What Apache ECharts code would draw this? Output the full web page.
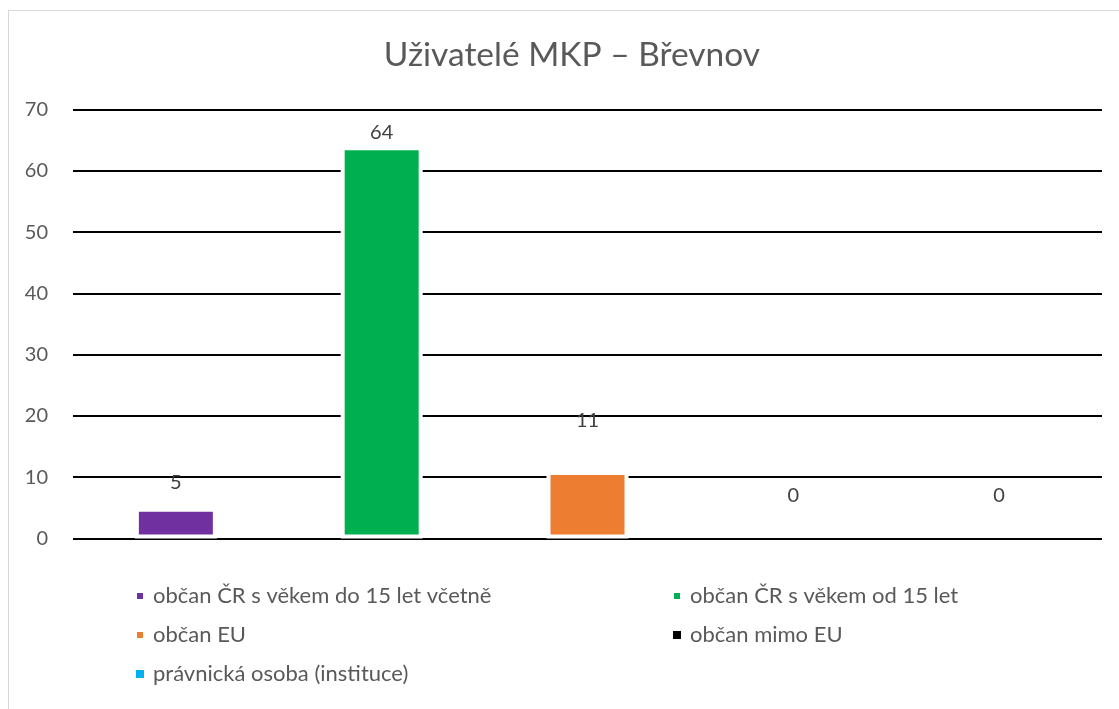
<!DOCTYPE html>
<html>
<head>
<meta charset="utf-8">
<script src="https://cdn.jsdelivr.net/npm/echarts@6/dist/echarts.min.js"></script>
<style>
  html, body { margin: 0; padding: 0; background: #fff; }
  #frame {
    position: absolute; left: 8px; top: 10px; width: 1130px; height: 720px;
    border: 1px solid #d9d9d9; box-sizing: border-box;
  }
  #chart { position: absolute; left: 0; top: 0; width: 1119px; height: 709px; }
</style>
</head>
<body>
<div id="frame"></div>
<div id="chart"></div>
<script>
const seriesNames = [
  'občan ČR s věkem do 15 let včetně',
  'občan ČR s věkem od 15 let',
  'občan EU',
  'občan mimo EU',
  'právnická osoba (instituce)'
]
const seriesValues = [5, 64, 11, 0, 0]
const seriesColors = ['#7030A0', '#00B050', '#ED7D31', '#000000', '#00B0F0']
const yTicks = [0, 10, 20, 30, 40, 50, 60, 70]
// label nudges to follow the original placement
const labelOffsets = [-10, 1, -36, -28, -28]

const font = 'Lato, "Open Sans", sans-serif'
const chart = echarts.init(document.getElementById('chart'), null, { renderer: 'canvas' })

const series = seriesNames.map((name, i) => ({
  name,
  type: 'bar',
  data: [seriesValues[i]],
  barWidth: 82,
  barGap: '151%',
  // white outline only where a bar is actually drawn
  itemStyle: { color: seriesColors[i], borderColor: '#ffffff', borderWidth: seriesValues[i] ? 4 : 0 },
  label: {
    show: true,
    position: 'top',
    distance: 5,
    offset: [0, labelOffsets[i]],
    color: '#404040',
    fontFamily: font,
    fontSize: 20
  }
}))

const legendStyle = {
  orient: 'vertical',
  icon: 'rect',
  itemWidth: 8,
  itemHeight: 8,
  itemGap: 17,
  textStyle: { color: '#595959', fontFamily: font, fontSize: 22, lineHeight: 22, padding: [0, 0, 0, 4] }
}

chart.setOption({
  animation: false,
  title: {
    text: 'Uživatelé MKP – Břevnov',
    left: 567,
    top: 33,
    textAlign: 'center',
    textStyle: { color: '#595959', fontFamily: font, fontSize: 33.5, fontWeight: 'normal' }
  },
  legend: [
    Object.assign({ data: [seriesNames[0], seriesNames[2], seriesNames[4]], left: 130, top: 580 }, legendStyle),
    Object.assign({ data: [seriesNames[1], seriesNames[3]], left: 667, top: 580 }, legendStyle)
  ],
  grid: { left: 73, right: 17, top: 109.5, height: 429 },
  xAxis: {
    type: 'category',
    data: [''],
    axisLine: { show: false },
    axisTick: { show: false },
    axisLabel: { show: false }
  },
  yAxis: {
    type: 'value',
    min: yTicks[0],
    max: yTicks[yTicks.length - 1],
    interval: 10,
    axisLine: { show: false },
    axisTick: { show: false },
    axisLabel: { color: '#595959', fontFamily: font, fontSize: 20, margin: 25 },
    splitLine: { lineStyle: { color: '#000000', width: 2 } }
  },
  series
})
</script>
</body>
</html>
